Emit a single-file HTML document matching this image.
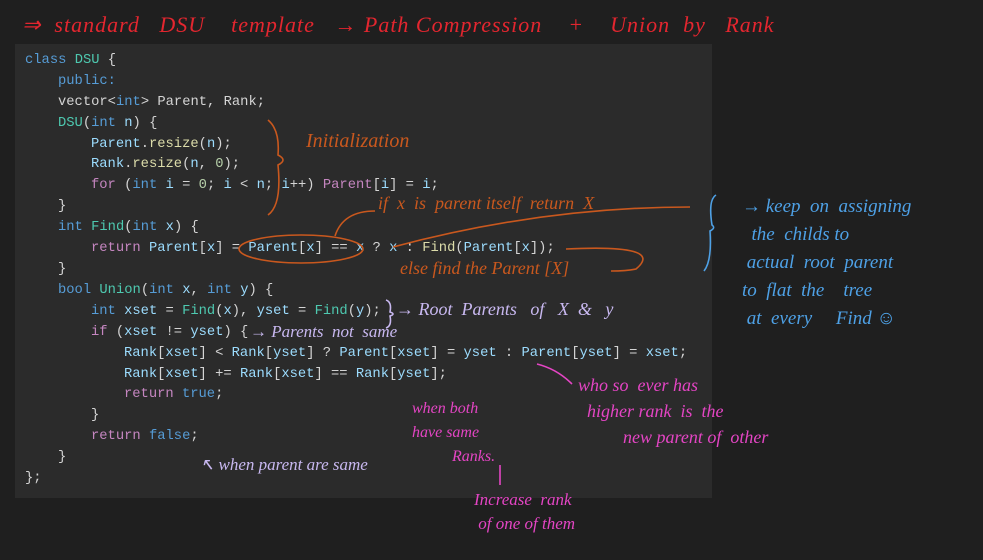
<!DOCTYPE html>
<html><head><meta charset="utf-8"><style>
body{margin:0;width:983px;height:560px;background:#1f1f1f;position:relative;overflow:hidden}
#panel{position:absolute;left:15px;top:44px;width:697px;height:454px;background:#2b2b2b}
.l{position:absolute;font:13.8px "Liberation Mono",monospace;color:#d4d4d4;white-space:pre;line-height:16px}
.k{color:#569cd6}.c{color:#c586c0}.f{color:#dcdcaa}.t{color:#4ec9b0}.v{color:#9cdcfe}.n{color:#b5cea8}
.h{position:absolute;font:italic 17px "Liberation Serif",serif;white-space:nowrap}
.r{color:#e3262f}.o{color:#c9581e}.b{color:#4ea1e6}.p{color:#c8b8f0}.m{color:#e445c4}
svg{position:absolute;left:0;top:0}
</style></head><body>
<div id="panel"></div>
<div class="l" style="left:25px;top:53px"><span class="k">class</span> <span class="t">DSU</span> {</div>
<div class="l" style="left:58px;top:74px"><span class="k">public:</span></div>
<div class="l" style="left:58px;top:95px">vector&lt;<span class="k">int</span>&gt; Parent, Rank;</div>
<div class="l" style="left:58px;top:116px"><span class="t">DSU</span>(<span class="k">int</span> <span class="v">n</span>) {</div>
<div class="l" style="left:91px;top:137px"><span class="v">Parent</span>.<span class="f">resize</span>(<span class="v">n</span>);</div>
<div class="l" style="left:91px;top:157px"><span class="v">Rank</span>.<span class="f">resize</span>(<span class="v">n</span>, <span class="n">0</span>);</div>
<div class="l" style="left:91px;top:178px"><span class="c">for</span> (<span class="k">int</span> <span class="v">i</span> = <span class="n">0</span>; <span class="v">i</span> &lt; <span class="v">n</span>; <span class="v">i</span>++) <span class="c">Parent</span>[<span class="v">i</span>] = <span class="v">i</span>;</div>
<div class="l" style="left:58px;top:199px">}</div>
<div class="l" style="left:58px;top:220px"><span class="k">int</span> <span class="t">Find</span>(<span class="k">int</span> <span class="v">x</span>) {</div>
<div class="l" style="left:91px;top:241px"><span class="c">return</span> <span class="v">Parent</span>[<span class="v">x</span>] = <span class="v">Parent</span>[<span class="v">x</span>] == <span class="v">x</span> ? <span class="v">x</span> : <span class="f">Find</span>(<span class="v">Parent</span>[<span class="v">x</span>]);</div>
<div class="l" style="left:58px;top:262px">}</div>
<div class="l" style="left:58px;top:283px"><span class="k">bool</span> <span class="t">Union</span>(<span class="k">int</span> <span class="v">x</span>, <span class="k">int</span> <span class="v">y</span>) {</div>
<div class="l" style="left:91px;top:304px"><span class="k">int</span> <span class="v">xset</span> = <span class="t">Find</span>(<span class="v">x</span>), <span class="v">yset</span> = <span class="t">Find</span>(<span class="v">y</span>);</div>
<div class="l" style="left:91px;top:325px"><span class="c">if</span> (<span class="v">xset</span> != <span class="v">yset</span>) {</div>
<div class="l" style="left:124px;top:346px"><span class="v">Rank</span>[<span class="v">xset</span>] &lt; <span class="v">Rank</span>[<span class="v">yset</span>] ? <span class="v">Parent</span>[<span class="v">xset</span>] = <span class="v">yset</span> : <span class="v">Parent</span>[<span class="v">yset</span>] = <span class="v">xset</span>;</div>
<div class="l" style="left:124px;top:367px"><span class="v">Rank</span>[<span class="v">xset</span>] += <span class="v">Rank</span>[<span class="v">xset</span>] == <span class="v">Rank</span>[<span class="v">yset</span>];</div>
<div class="l" style="left:124px;top:387px"><span class="c">return</span> <span class="k">true</span>;</div>
<div class="l" style="left:91px;top:408px">}</div>
<div class="l" style="left:91px;top:429px"><span class="c">return</span> <span class="k">false</span>;</div>
<div class="l" style="left:58px;top:450px">}</div>
<div class="l" style="left:25px;top:471px">};</div>

<div class="h r" style="left:22px;top:12px;font-size:22px;letter-spacing:1px">⇒ &nbsp;standard &nbsp; DSU &nbsp; &nbsp;template &nbsp; → Path Compression &nbsp; &nbsp;+ &nbsp; &nbsp;Union &nbsp;by &nbsp; Rank</div>
<div class="h o" style="left:306px;top:130px;font-size:20px">Initialization</div>
<div class="h o" style="left:378px;top:193px;font-size:18px">if &nbsp;x &nbsp;is &nbsp;parent itself &nbsp;return &nbsp;X</div>
<div class="h o" style="left:400px;top:258px;font-size:18px">else find the Parent [X]</div>
<div class="h p" style="left:396px;top:299px;font-size:18px">→ Root &nbsp;Parents &nbsp; of &nbsp; X &nbsp;&amp; &nbsp; y</div>
<div class="h p" style="left:250px;top:322px;font-size:17px">→ Parents &nbsp;not &nbsp;same</div>
<div class="h b" style="left:742px;top:193px;font-size:19px;line-height:28px">→ keep &nbsp;on &nbsp;assigning<br>&nbsp; the &nbsp;childs to<br>&nbsp;actual &nbsp;root &nbsp;parent<br>to &nbsp;flat &nbsp;the &nbsp; &nbsp;tree<br>&nbsp;at &nbsp;every &nbsp; &nbsp; Find ☺</div>
<div class="h m" style="left:578px;top:372px;font-size:18px;line-height:26px">who so &nbsp;ever has<br>&nbsp; higher rank &nbsp;is &nbsp;the<br>&nbsp; &nbsp; &nbsp; &nbsp; &nbsp; new parent of &nbsp;other</div>
<div class="h m" style="left:412px;top:397px;font-size:16px;line-height:24px">when both<br>have same<br>&nbsp; &nbsp; &nbsp; &nbsp; &nbsp; Ranks.</div>
<div class="h m" style="left:474px;top:488px;font-size:17px;line-height:24px">Increase &nbsp;rank<br>&nbsp;of one of them</div>
<div class="h p" style="left:200px;top:455px;font-size:17px">↖ when parent are same</div>

<svg width="983" height="560">
<g fill="none" stroke-width="1.6">
<path d="M268 120 q12 10 10 35 q10 5 0 10 q4 40 -10 50" stroke="#c9581e"/>
<ellipse cx="301" cy="249" rx="62" ry="14" stroke="#c9581e"/>
<path d="M335 236 q8 -25 40 -25" stroke="#c9581e"/>
<path d="M393 247 q150 -40 297 -40" stroke="#c9581e"/>
<path d="M566 249 q100 -5 70 20 q-10 2 -25 2" stroke="#c9581e"/>
<path d="M386 300 q6 2 4 12 q6 2 0 4 q2 10 -4 12" stroke="#c8b8f0"/>
<path d="M716 195 q-8 5 -4 30 q4 3 -2 6 q2 30 -6 40" stroke="#4ea1e6"/>
<path d="M537 364 q20 5 35 20" stroke="#e445c4"/>
<path d="M500 465 v20" stroke="#e445c4"/>
</g>
</svg>
</body></html>
